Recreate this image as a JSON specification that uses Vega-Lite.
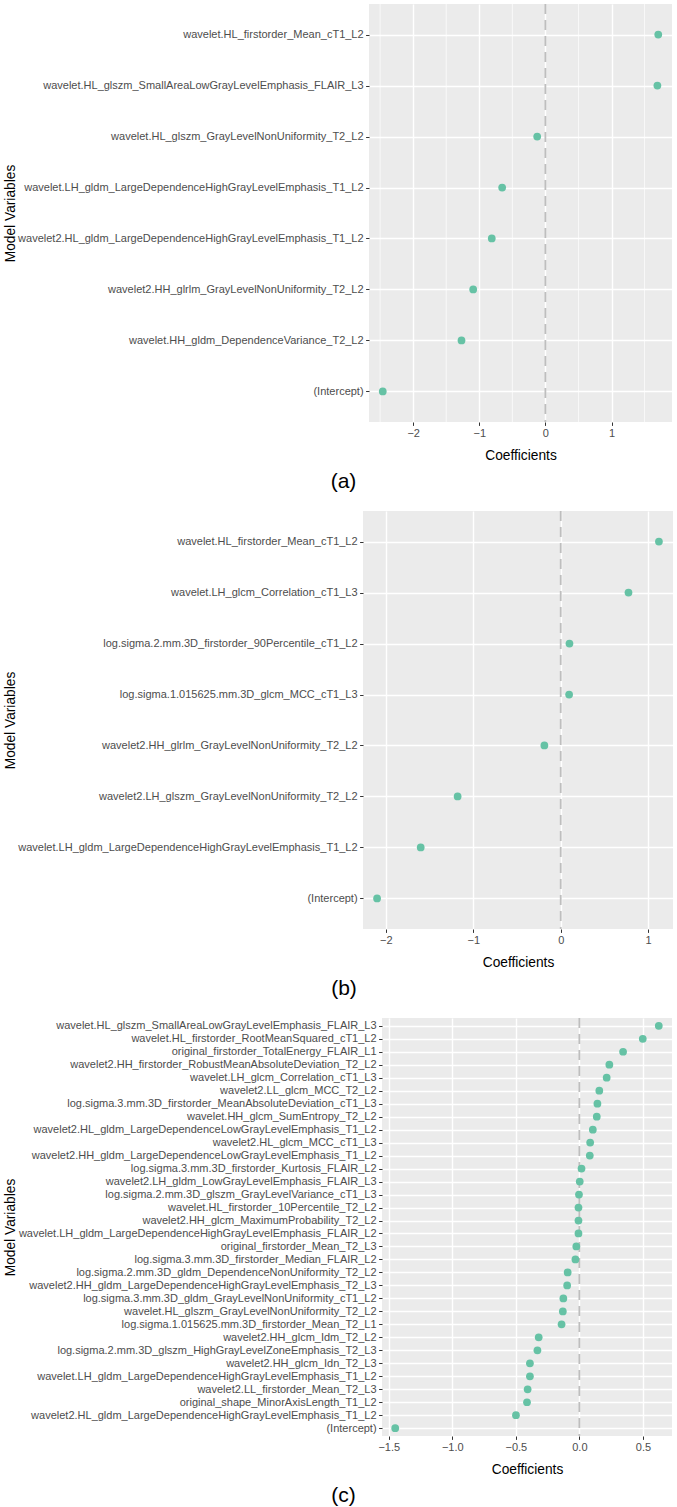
{
  "$schema": "https://vega.github.io/schema/vega-lite/v6.json",
  "padding": {"left": 2, "top": 3, "right": 1, "bottom": 2},
  "spacing": 18,
  "config": {
    "font": "Liberation Sans",
    "view": {"fill": "#EBEBEB", "stroke": null},
    "axis": {
      "domain": false,
      "labelColor": "#4D4D4D",
      "labelFontSize": 11,
      "labelFont": "Liberation Sans",
      "labelOverlap": false,
      "labelLimit": 500,
      "tickColor": "#333333",
      "tickSize": 3.4,
      "labelPadding": 2.5,
      "titleFont": "Liberation Sans",
      "titleFontSize": 13.75,
      "titleFontWeight": "normal",
      "titleColor": "#000000",
      "gridColor": "#FFFFFF",
      "gridWidth": 1.4,
      "gridOpacity": 1
    },
    "title": {"fontSize": 21, "fontWeight": "normal", "color": "#000000", "font": "Liberation Sans"}
  },
  "vconcat": [
    {
      "spacing": 0,
      "hconcat": [
        {"width": 1, "height": 418, "view": {"fill": null, "stroke": null}, "data": {"values": []}, "mark": {"type": "point", "opacity": 0}, "encoding": {}},
        {
          "width": 303,
          "height": 418,
          "title": {"text": "(a)", "orient": "bottom", "anchor": "middle", "frame": "bounds", "offset": 8, "dx": 6},
          "layer": [
            {
              "data": {"values": [{"minor": -2.5}, {"minor": -1.5}, {"minor": -0.5}, {"minor": 0.5}, {"minor": 1.5}]},
              "mark": {"type": "rule", "color": "#FFFFFF", "strokeWidth": 0.7},
              "encoding": {"x": {"field": "minor", "type": "quantitative"}}
            },
            {
              "data": {"values": [{"ref": 0}]},
              "mark": {"type": "rule", "color": "#BEBEBE", "strokeDash": [10, 6], "strokeWidth": 1.8},
              "encoding": {"x": {"field": "ref", "type": "quantitative"}}
            },
            {
              "data": {"values": [
                {"variable": "wavelet.HL_firstorder_Mean_cT1_L2", "coef": 1.707},
                {"variable": "wavelet.HL_glszm_SmallAreaLowGrayLevelEmphasis_FLAIR_L3", "coef": 1.694},
                {"variable": "wavelet.HL_glszm_GrayLevelNonUniformity_T2_L2", "coef": -0.124},
                {"variable": "wavelet.LH_gldm_LargeDependenceHighGrayLevelEmphasis_T1_L2", "coef": -0.654},
                {"variable": "wavelet2.HL_gldm_LargeDependenceHighGrayLevelEmphasis_T1_L2", "coef": -0.811},
                {"variable": "wavelet2.HH_glrlm_GrayLevelNonUniformity_T2_L2", "coef": -1.092},
                {"variable": "wavelet.HH_gldm_DependenceVariance_T2_L2", "coef": -1.269},
                {"variable": "(Intercept)", "coef": -2.46}
              ]},
              "mark": {"type": "circle", "size": 60, "color": "#66C2A5", "opacity": 1},
              "encoding": {
                "x": {"field": "coef", "type": "quantitative",
                  "scale": {"domain": [-2.668, 1.915], "nice": false, "zero": false},
                  "axis": {"title": "Coefficients", "titlePadding": 10, "labelOverlap": false, "labelFlush": false,
                    "values": [-2, -1, 0, 1], "format": "d"}},
                "y": {"field": "variable", "type": "nominal", "sort": null,
                  "scale": {"type": "point", "padding": 0.6},
                  "axis": {"title": "Model Variables", "titleX": -352, "titleY": 209, "grid": true}}
              }
            }
          ]
        }
      ]
    },
    {
      "spacing": 0,
      "hconcat": [
        {"width": 1, "height": 418, "view": {"fill": null, "stroke": null}, "data": {"values": []}, "mark": {"type": "point", "opacity": 0}, "encoding": {}},
        {
          "width": 310,
          "height": 418,
          "title": {"text": "(b)", "orient": "bottom", "anchor": "middle", "frame": "bounds", "offset": 8, "dx": 6},
          "layer": [
            {
              "data": {"values": [{"ref": 0}]},
              "mark": {"type": "rule", "color": "#BEBEBE", "strokeDash": [10, 6], "strokeWidth": 1.8},
              "encoding": {"x": {"field": "ref", "type": "quantitative"}}
            },
            {
              "data": {"values": [
                {"variable": "wavelet.HL_firstorder_Mean_cT1_L2", "coef": 1.123},
                {"variable": "wavelet.LH_glcm_Correlation_cT1_L3", "coef": 0.775},
                {"variable": "log.sigma.2.mm.3D_firstorder_90Percentile_cT1_L2", "coef": 0.1},
                {"variable": "log.sigma.1.015625.mm.3D_glcm_MCC_cT1_L3", "coef": 0.096},
                {"variable": "wavelet2.HH_glrlm_GrayLevelNonUniformity_T2_L2", "coef": -0.187},
                {"variable": "wavelet2.LH_glszm_GrayLevelNonUniformity_T2_L2", "coef": -1.179},
                {"variable": "wavelet.LH_gldm_LargeDependenceHighGrayLevelEmphasis_T1_L2", "coef": -1.601},
                {"variable": "(Intercept)", "coef": -2.1}
              ]},
              "mark": {"type": "circle", "size": 60, "color": "#66C2A5", "opacity": 1},
              "encoding": {
                "x": {"field": "coef", "type": "quantitative",
                  "scale": {"domain": [-2.261, 1.284], "nice": false, "zero": false},
                  "axis": {"title": "Coefficients", "titlePadding": 10, "labelOverlap": false, "labelFlush": false,
                    "values": [-2, -1.5, -1, -0.5, 0, 0.5, 1],
                    "format": "d",
                    "labelExpr": "datum.value % 1 !== 0 ? '' : datum.label",
                    "gridWidth": {"condition": {"test": "datum.value % 1 !== 0", "value": 0.7}, "value": 1.4},
                    "tickSize": {"condition": {"test": "datum.value % 1 !== 0", "value": 0}, "value": 3.4}}},
                "y": {"field": "variable", "type": "nominal", "sort": null,
                  "scale": {"type": "point", "padding": 0.6},
                  "axis": {"title": "Model Variables", "titleX": -346, "titleY": 209, "grid": true}}
              }
            }
          ]
        }
      ]
    },
    {
      "spacing": 0,
      "hconcat": [
        {"width": 1, "height": 418, "view": {"fill": null, "stroke": null}, "data": {"values": []}, "mark": {"type": "point", "opacity": 0}, "encoding": {}},
        {
          "width": 290,
          "height": 418,
          "title": {"text": "(c)", "orient": "bottom", "anchor": "middle", "frame": "bounds", "offset": 8, "dx": 6},
          "layer": [
            {
              "data": {"values": [{"ref": 0}]},
              "mark": {"type": "rule", "color": "#BEBEBE", "strokeDash": [10, 6], "strokeWidth": 1.8},
              "encoding": {"x": {"field": "ref", "type": "quantitative"}}
            },
            {
              "data": {"values": [
                {"variable": "wavelet.HL_glszm_SmallAreaLowGrayLevelEmphasis_FLAIR_L3", "coef": 0.625},
                {"variable": "wavelet.HL_firstorder_RootMeanSquared_cT1_L2", "coef": 0.499},
                {"variable": "original_firstorder_TotalEnergy_FLAIR_L1", "coef": 0.344},
                {"variable": "wavelet2.HH_firstorder_RobustMeanAbsoluteDeviation_T2_L2", "coef": 0.236},
                {"variable": "wavelet.LH_glcm_Correlation_cT1_L3", "coef": 0.215},
                {"variable": "wavelet2.LL_glcm_MCC_T2_L2", "coef": 0.157},
                {"variable": "log.sigma.3.mm.3D_firstorder_MeanAbsoluteDeviation_cT1_L3", "coef": 0.142},
                {"variable": "wavelet.HH_glcm_SumEntropy_T2_L2", "coef": 0.137},
                {"variable": "wavelet2.HL_gldm_LargeDependenceLowGrayLevelEmphasis_T1_L2", "coef": 0.106},
                {"variable": "wavelet2.HL_glcm_MCC_cT1_L3", "coef": 0.085},
                {"variable": "wavelet2.HH_gldm_LargeDependenceLowGrayLevelEmphasis_T1_L2", "coef": 0.082},
                {"variable": "log.sigma.3.mm.3D_firstorder_Kurtosis_FLAIR_L2", "coef": 0.017},
                {"variable": "wavelet2.LH_gldm_LowGrayLevelEmphasis_FLAIR_L3", "coef": 0.003},
                {"variable": "log.sigma.2.mm.3D_glszm_GrayLevelVariance_cT1_L3", "coef": -0.003},
                {"variable": "wavelet.HL_firstorder_10Percentile_T2_L2", "coef": -0.007},
                {"variable": "wavelet2.HH_glcm_MaximumProbability_T2_L2", "coef": -0.007},
                {"variable": "wavelet.LH_gldm_LargeDependenceHighGrayLevelEmphasis_FLAIR_L2", "coef": -0.007},
                {"variable": "original_firstorder_Mean_T2_L3", "coef": -0.024},
                {"variable": "log.sigma.3.mm.3D_firstorder_Median_FLAIR_L2", "coef": -0.031},
                {"variable": "log.sigma.2.mm.3D_gldm_DependenceNonUniformity_T2_L2", "coef": -0.092},
                {"variable": "wavelet2.HH_gldm_LargeDependenceHighGrayLevelEmphasis_T2_L3", "coef": -0.096},
                {"variable": "log.sigma.3.mm.3D_gldm_GrayLevelNonUniformity_cT1_L2", "coef": -0.126},
                {"variable": "wavelet.HL_glszm_GrayLevelNonUniformity_T2_L2", "coef": -0.13},
                {"variable": "log.sigma.1.015625.mm.3D_firstorder_Mean_T2_L1", "coef": -0.14},
                {"variable": "wavelet2.HH_glcm_Idm_T2_L2", "coef": -0.32},
                {"variable": "log.sigma.2.mm.3D_glszm_HighGrayLevelZoneEmphasis_T2_L3", "coef": -0.33},
                {"variable": "wavelet2.HH_glcm_Idn_T2_L3", "coef": -0.389},
                {"variable": "wavelet.LH_gldm_LargeDependenceHighGrayLevelEmphasis_T1_L2", "coef": -0.389},
                {"variable": "wavelet2.LL_firstorder_Mean_T2_L3", "coef": -0.407},
                {"variable": "original_shape_MinorAxisLength_T1_L2", "coef": -0.412},
                {"variable": "wavelet2.HL_gldm_LargeDependenceHighGrayLevelEmphasis_T1_L2", "coef": -0.499},
                {"variable": "(Intercept)", "coef": -1.449}
              ]},
              "mark": {"type": "circle", "size": 60, "color": "#66C2A5", "opacity": 1},
              "encoding": {
                "x": {"field": "coef", "type": "quantitative",
                  "scale": {"domain": [-1.553, 0.729], "nice": false, "zero": false},
                  "axis": {"title": "Coefficients", "titlePadding": 10, "labelOverlap": false, "labelFlush": false,
                    "values": [-1.5, -1.25, -1, -0.75, -0.5, -0.25, 0, 0.25, 0.5],
                    "format": ".1f",
                    "labelExpr": "datum.value % 0.5 !== 0 ? '' : datum.label",
                    "gridWidth": {"condition": {"test": "datum.value % 0.5 !== 0", "value": 0.7}, "value": 1.4},
                    "tickSize": {"condition": {"test": "datum.value % 0.5 !== 0", "value": 0}, "value": 3.4}}},
                "y": {"field": "variable", "type": "nominal", "sort": null,
                  "scale": {"type": "point", "padding": 0.6},
                  "axis": {"title": "Model Variables", "titleX": -365, "titleY": 209, "grid": true}}
              }
            }
          ]
        }
      ]
    }
  ]
}
